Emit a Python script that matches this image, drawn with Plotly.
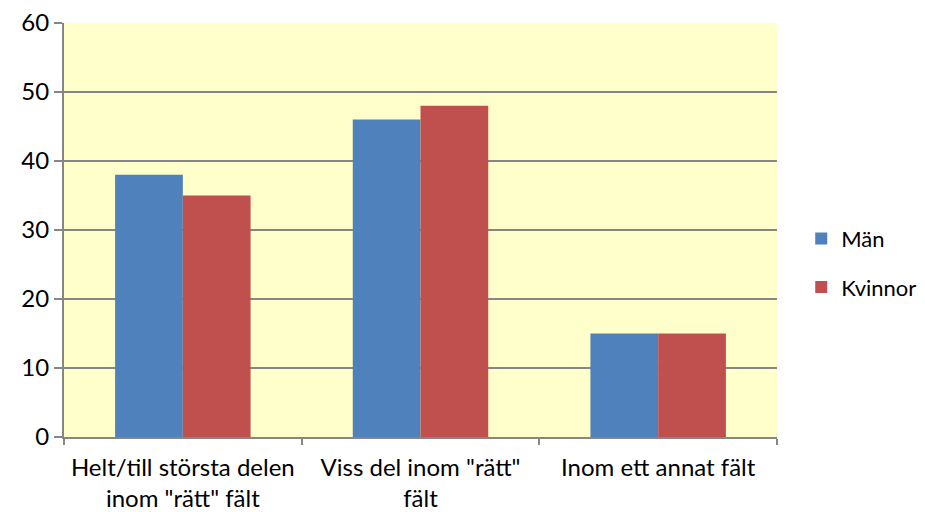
import plotly.graph_objects as go

categories = ['Helt/till största delen<br>inom "rätt" fält', 'Viss del inom "rätt"<br>fält', 'Inom ett annat fält']
man = [38, 46, 15]
kvinnor = [35, 48, 15]

fig = go.Figure()
fig.add_bar(x=categories, y=man, name="Män", marker=dict(color="#4F81BD", line=dict(width=0)), legendgroup="a")
fig.add_bar(x=categories, y=kvinnor, name="Kvinnor", marker=dict(color="#C0504D", line=dict(width=0)), legendgroup="b")

fig.update_layout(
    width=925, height=512,
    margin=dict(l=56, r=156, t=15, b=83, autoexpand=False),
    paper_bgcolor="white", plot_bgcolor="#FFFFCC",
    barmode="group", bargap=0.43, bargroupgap=0,
    font=dict(family="Lato, Open Sans, sans-serif", size=24, color="black"),
    legend=dict(x=1.034, y=0.42, xanchor="left", yanchor="middle", tracegroupgap=17,
                font=dict(size=22), itemwidth=30),
    showlegend=True,
)
fig.update_xaxes(showline=True, linecolor="#868686", linewidth=2, ticks="outside", tickson="boundaries",
                 ticklen=6, tickcolor="#868686", tickwidth=2, showgrid=False, automargin=False, tickangle=0,
                 ticklabelstandoff=8)
fig.update_yaxes(range=[0, 60], dtick=10, showline=True, linecolor="#868686", linewidth=2,
                 ticks="outside", ticklen=8, tickcolor="#868686", tickwidth=2, automargin=False,
                 ticklabeloverflow="allow",
                 showgrid=True, gridcolor="#868686", gridwidth=1.5, zeroline=False)

fig.write_html("out.html")
